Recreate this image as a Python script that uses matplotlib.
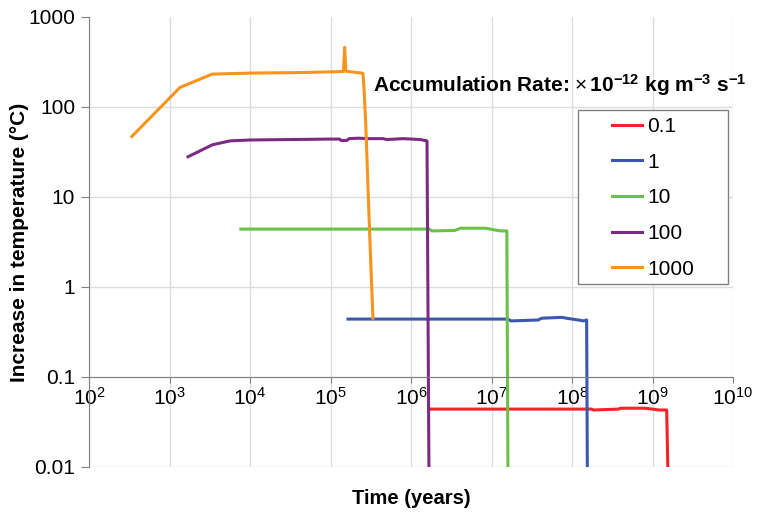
import matplotlib
matplotlib.use("Agg")
import matplotlib.pyplot as plt
from matplotlib.patches import Rectangle

plt.rcParams['font.family'] = ['Liberation Sans', 'DejaVu Sans']
plt.rcParams['mathtext.fontset'] = 'custom'
plt.rcParams['mathtext.rm'] = 'Liberation Sans'
plt.rcParams['mathtext.it'] = 'Liberation Sans:italic'
plt.rcParams['mathtext.bf'] = 'Liberation Sans:bold'

# ---- data ----
labels = ["0.1", "1", "10", "100", "1000"]
colors = ["#f5222a", "#3a58b0", "#6cc04a", "#7d2a85", "#f7941d"]

x_01 = [1.67e6, 1.0e8, 1.75e8, 1.85e8, 3.8e8, 4.0e8, 7.9e8, 1.0e9, 1.2e9, 1.5e9, 1.55e9]
y_01 = [0.044, 0.044, 0.044, 0.043, 0.044, 0.045, 0.045, 0.044, 0.043, 0.043, 0.01]

x_1 = [1.65e5, 1.6e7, 1.75e7, 3.8e7, 4.2e7, 7.5e7, 8.5e7, 1.2e8, 1.4e8, 1.52e8, 1.55e8]
y_1 = [0.44, 0.44, 0.42, 0.43, 0.45, 0.46, 0.45, 0.43, 0.42, 0.43, 0.01]

x_10 = [7700, 1.0e5, 1.0e6, 1.7e6, 1.8e6, 3.5e6, 4.1e6, 8.5e6, 1.1e7, 1.3e7, 1.55e7, 1.6e7]
y_10 = [4.4, 4.4, 4.4, 4.4, 4.2, 4.25, 4.5, 4.5, 4.3, 4.2, 4.2, 0.01]

x_100 = [1700, 3400, 5600, 1.0e4, 1.0e5, 1.3e5, 1.35e5, 1.6e5, 1.7e5, 2.2e5, 3.0e5,
         4.5e5, 5.0e5, 8.0e5, 1.3e6, 1.58e6, 1.67e6]
y_100 = [28, 38, 42, 43, 44, 44, 42.5, 42.5, 44.5, 45, 44.5, 44.5, 43.5, 44.5, 43.5, 42, 0.01]

x_1000 = [340, 1350, 3400, 1.0e4, 5.0e4, 1.45e5, 1.5e5, 1.55e5, 2.53e5, 2.62e5, 2.75e5,
          2.95e5, 3.1e5, 3.25e5, 3.37e5]
y_1000 = [47, 165, 232, 238, 242, 248, 460, 250, 237, 150, 60, 10, 3, 1.0, 0.45]

series_x = [x_01, x_1, x_10, x_100, x_1000]
series_y = [y_01, y_1, y_10, y_100, y_1000]

x_ticks = [1e2, 1e3, 1e4, 1e5, 1e6, 1e7, 1e8, 1e9, 1e10]
x_tick_labels = [r"$10^{%d}$" % e for e in range(2, 11)]
y_ticks = [0.01, 0.1, 1, 10, 100, 1000]
y_tick_labels = ["0.01", "0.1", "1", "10", "100", "1000"]

# ---- figure ----
W, H = 767, 516
fig = plt.figure(figsize=(W/100, H/100), dpi=100)
ax = fig.add_axes([89/W, 1-467/H, (733-89)/W, (467-17)/H])

ax.set_xscale('log')
ax.set_yscale('log')
ax.spines['bottom'].set_position(('data', 0.1))
ax.spines['top'].set_visible(False)
ax.spines['right'].set_visible(False)
ax.spines['left'].set_color('#808080')
ax.spines['bottom'].set_color('#808080')

lines = []
for xs, ys, c, lab in zip(series_x, series_y, colors, labels):
    ln, = ax.plot(xs, ys, color=c, lw=2.2, label=lab, solid_joinstyle='round')
    lines.append(ln)

ax.set_xlim(1e2, 1e10)
ax.set_ylim(0.01, 1000)

ax.set_xticks(x_ticks)
ax.set_xticklabels(x_tick_labels)
ax.set_yticks(y_ticks)
ax.set_yticklabels(y_tick_labels)
ax.minorticks_off()
ax.tick_params(axis='y', direction='out', length=6, color='#808080', pad=4, labelsize=15)
ax.tick_params(axis='x', direction='out', length=4, color='#808080', pad=3, labelsize=15)

ax.grid(True, color='#dddddd', lw=1.0)
ax.set_axisbelow(True)
ax.get_ygridlines()[-1].set_visible(False)

fig.text(20/W, 1-242/H, "Increase in temperature (°C)", rotation=90,
         fontsize=15, fontweight='bold', ha='center', va='center')
fig.text(411/W, 1-498/H, "Time (years)", fontsize=14.5, fontweight='bold',
         ha='center', va='center')

fig.text(373/W, 1-85/H,
         r"Accumulation Rate: $\times\,\mathbf{10^{-12}}$ $\mathbf{kg\ m^{-3}\ s^{-1}}$",
         fontsize=15, fontweight='bold', ha='left', va='center')

# legend frame
frame = Rectangle((578/W, 1-284/H), (728-578)/W, (284-110)/H, transform=fig.transFigure,
                  facecolor='white', edgecolor='#808080', lw=1.0, zorder=4)
ax.add_patch(frame)
frame.set_clip_on(False)

leg = ax.legend(handles=lines, loc='upper left', bbox_to_anchor=(612/W, 1-117/H),
                bbox_transform=fig.transFigure,
                fontsize=15, frameon=False,
                handlelength=1.45, handletextpad=0.25, labelspacing=0.8,
                borderpad=0, borderaxespad=0)
leg.set_zorder(5)

fig.savefig("out.png", dpi=100)
